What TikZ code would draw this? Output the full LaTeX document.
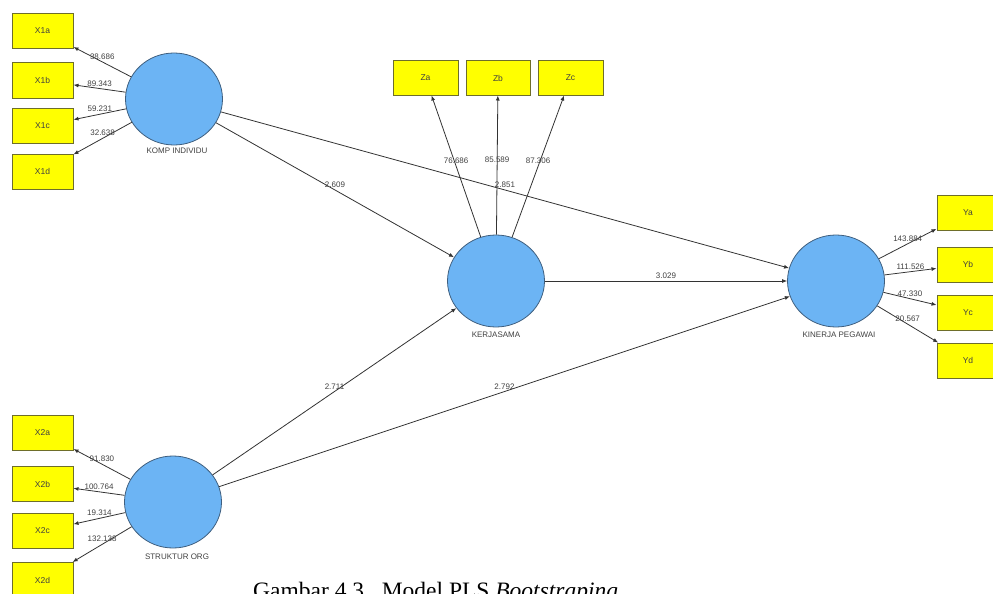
\documentclass[tikz,border=0pt]{standalone}
\usepackage{fontspec}
\setmainfont{Liberation Serif}
\newfontfamily\diag{Liberation Sans}
\usetikzlibrary{arrows.meta,shapes.geometric}
\definecolor{indfill}{HTML}{FFFF00}
\definecolor{indline}{HTML}{6E6E2A}
\definecolor{latfill}{HTML}{6CB4F4}
\definecolor{latline}{HTML}{3F5F7F}
\definecolor{pathcol}{HTML}{333333}
\definecolor{txtcol}{HTML}{404040}

\begin{document}
\begin{tikzpicture}[x=1pt,y=-1pt,
  indicator/.style={draw=indline, fill=indfill, line width=1pt,
    minimum width=61pt, minimum height=35pt, inner sep=0pt,
    font=\diag\fontsize{8.5}{10}\selectfont, text=txtcol},
  latent/.style={ellipse, draw=latline, fill=latfill, line width=0.8pt,
    minimum width=97pt, minimum height=92pt, inner sep=0pt},
  lvname/.style={font=\diag\fontsize{8}{9}\selectfont, text=txtcol, inner sep=0pt},
  coef/.style={font=\diag\fontsize{8}{9}\selectfont, text=txtcol,
    inner sep=1pt, above=1pt},
  link/.style={draw=pathcol, line width=0.8pt, -{Latex[length=5pt,width=4pt]}}
]
\useasboundingbox (0,0) rectangle (993,594);

% latent variables
\node[latent] (komp)    at (174,99)  {};
\node[latent] (kerja)   at (496,281) {};
\node[latent] (kinerja) at (836,281) {};
\node[latent] (struk)   at (173,502) {};

\node[lvname] (kompname)    at (177,151) {KOMP INDIVIDU};
\node[lvname] (kerjaname)   at (496,335) {KERJASAMA};
\node[lvname] (kinerjaname) at (839,335) {KINERJA PEGAWAI};
\node[lvname] (strukname)   at (177,557) {STRUKTUR ORG};

% indicators of KOMP INDIVIDU
\node[indicator] (x1a) at (42.5,31)    {X1a};
\node[indicator] (x1b) at (42.5,80.5)  {X1b};
\node[indicator] (x1c) at (42.5,126)   {X1c};
\node[indicator] (x1d) at (42.5,171.5) {X1d};

% indicators of STRUKTUR ORG
\node[indicator] (x2a) at (42.5,432.5) {X2a};
\node[indicator] (x2b) at (42.5,484)   {X2b};
\node[indicator] (x2c) at (42.5,531)   {X2c};
\node[indicator] (x2d) at (42.5,580)   {X2d};

% indicators of KERJASAMA
\node[indicator, minimum width=65pt, minimum height=34pt] (za) at (425.5,78) {Za};
\node[indicator, minimum width=64pt, minimum height=34pt] (zb) at (498,78)   {Zb};
\node[indicator, minimum width=65pt, minimum height=34pt] (zc) at (570.5,78) {Zc};

% indicators of KINERJA PEGAWAI
\node[indicator, minimum width=62pt] (ya) at (968,212.5) {Ya};
\node[indicator, minimum width=62pt] (yb) at (968,264.5) {Yb};
\node[indicator, minimum width=62pt] (yc) at (968,312.5) {Yc};
\node[indicator, minimum width=62pt] (yd) at (968,360.5) {Yd};

% outer loadings
\draw[link] (komp) -- node[coef] {38.686} (x1a);
\draw[link] (komp) -- node[coef] {89.343} (x1b);
\draw[link] (komp) -- node[coef] {59.231} (x1c);
\draw[link] (komp) -- node[coef] {32.638} (x1d);

\draw[link] (struk) -- node[coef] {91.830}  (x2a);
\draw[link] (struk) -- node[coef] {100.764} (x2b);
\draw[link] (struk) -- node[coef] {19.314}  (x2c);
\draw[link] (struk) -- node[coef] {132.138} (x2d);

\draw[link] (kerja) -- node[coef] {76.686} (za);
\draw[link] (kerja) -- node[coef] {85.589} (zb);
\draw[link] (kerja) -- node[coef] {87.306} (zc);

\draw[link] (kinerja) -- node[coef] {143.884} (ya);
\draw[link] (kinerja) -- node[coef] {111.526} (yb);
\draw[link] (kinerja) -- node[coef] {47.330}  (yc);
\draw[link] (kinerja) -- node[coef] {20.567}  (yd);

% inner model
\draw[link] (komp)  -- node[coef] {2.609} (kerja);
\draw[link] (komp)  -- node[coef] {2.851} (kinerja);
\draw[link] (kerja) -- node[coef] {3.029} (kinerja);
\draw[link] (struk) -- node[coef] {2.711} (kerja);
\draw[link] (struk) -- node[coef] {2.792} (kinerja);

% caption, running off the lower edge of the page
\node[anchor=base west, inner sep=0pt, font=\fontsize{23.5}{28}\selectfont] (caption)
  at (253,598) {Gambar 4.3.\ \ Model PLS \textit{Bootstraping}};
\end{tikzpicture}
\end{document}
